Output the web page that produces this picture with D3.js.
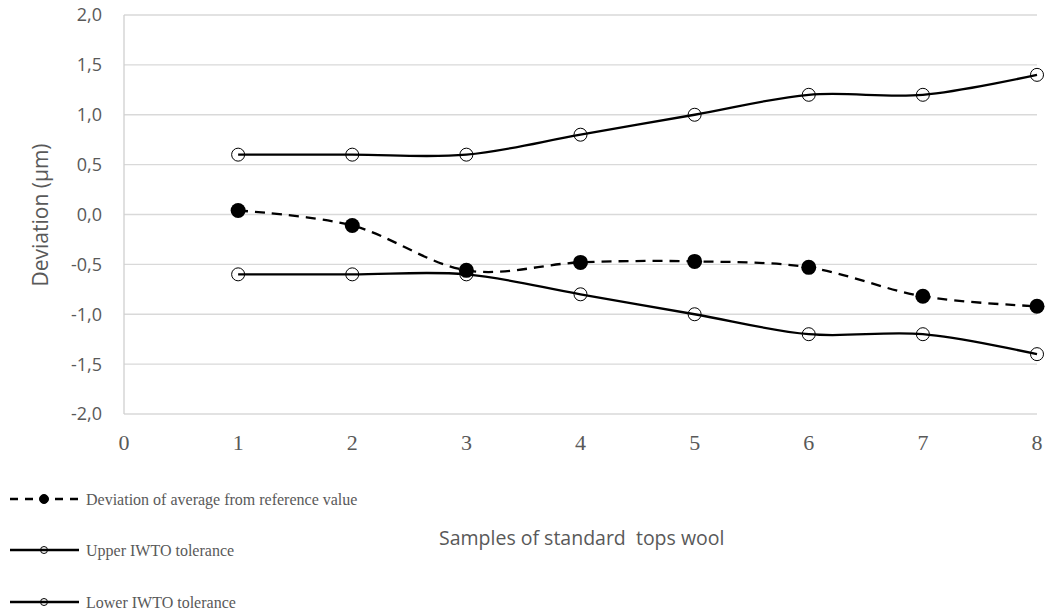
<!DOCTYPE html>
<html>
<head>
<meta charset="utf-8">
<script src="https://cdn.jsdelivr.net/npm/d3@7"></script>
<style>
  body { margin: 0; background: #fff; }
  svg { display: block; }
  .serif { font-family: "Liberation Serif", "Times New Roman", serif; }
  .sans { font-family: "Open Sans", sans-serif; }
</style>
</head>
<body>
<div id="chart"></div>
<script>
var samples = [1, 2, 3, 4, 5, 6, 7, 8];
var deviation = [0.04, -0.11, -0.56, -0.48, -0.47, -0.53, -0.82, -0.92];
var upperTol = [0.6, 0.6, 0.6, 0.8, 1.0, 1.2, 1.2, 1.4];
var lowerTol = [-0.6, -0.6, -0.6, -0.8, -1.0, -1.2, -1.2, -1.4];
var xTicks = [0, 1, 2, 3, 4, 5, 6, 7, 8];
var yTicks = [2.0, 1.5, 1.0, 0.5, 0.0, -0.5, -1.0, -1.5, -2.0];
var legendNames = ["Deviation of average from reference value", "Upper IWTO tolerance", "Lower IWTO tolerance"];

var width = 1049, height = 614;
var svg = d3.select("#chart").append("svg")
    .attr("width", width)
    .attr("height", height);

var x = d3.scaleLinear().domain([0, 8]).range([124, 1037]);
var y = d3.scaleLinear().domain([-2, 2]).range([414, 15]);

var locale = d3.formatLocale({decimal: ",", thousands: ".", grouping: [3], currency: ["", ""], minus: "-"});
var fmt = locale.format(".1f");

var grey = "#595959";

// gridlines
svg.append("g").selectAll("line")
    .data(yTicks)
    .join("line")
    .attr("x1", x(0)).attr("x2", x(8))
    .attr("y1", d => y(d)).attr("y2", d => y(d))
    .attr("stroke", "#d9d9d9")
    .attr("stroke-width", 1.3);

// left axis line
svg.append("line")
    .attr("x1", x(0)).attr("x2", x(0))
    .attr("y1", y(2)).attr("y2", y(-2))
    .attr("stroke", "#d0d0d0")
    .attr("stroke-width", 1.3);

// y tick labels
svg.append("g").selectAll("text")
    .data(yTicks)
    .join("text")
    .attr("class", "sans")
    .attr("x", 102)
    .attr("y", d => y(d))
    .attr("dy", "0.36em")
    .attr("text-anchor", "end")
    .attr("font-size", 18)
    .attr("fill", grey)
    .text(d => fmt(d));

// x tick labels
svg.append("g").selectAll("text")
    .data(xTicks)
    .join("text")
    .attr("class", "serif")
    .attr("x", d => x(d))
    .attr("y", 450)
    .attr("text-anchor", "middle")
    .attr("font-size", 22)
    .attr("fill", grey)
    .text(d => d);

// axis titles
svg.append("text")
    .attr("class", "sans")
    .attr("transform", "translate(48,215) rotate(-90)")
    .attr("text-anchor", "middle")
    .attr("font-size", 21)
    .attr("fill", grey)
    .text("Deviation (\u00b5m)");

svg.append("text")
    .attr("class", "sans")
    .attr("x", 439)
    .attr("y", 545)
    .attr("font-size", 19.5)
    .attr("fill", grey)
    .style("white-space", "pre")
    .text("Samples of standard  tops wool");

var line = d3.line()
    .x((d, i) => x(samples[i]))
    .y(d => y(d))
    .curve(d3.curveCatmullRom.alpha(0));

function drawSeries(vals, dashed, filled) {
    svg.append("path")
        .datum(vals)
        .attr("d", line)
        .attr("fill", "none")
        .attr("stroke", "#000")
        .attr("stroke-width", 2.3)
        .attr("stroke-dasharray", dashed ? "10,7" : null);
    svg.append("g").selectAll("circle")
        .data(vals)
        .join("circle")
        .attr("cx", (d, i) => x(samples[i]))
        .attr("cy", d => y(d))
        .attr("r", filled ? 7.5 : 6.5)
        .attr("fill", filled ? "#000" : "none")
        .attr("stroke", "#000")
        .attr("stroke-width", filled ? 0 : 1);
}

drawSeries(upperTol, false, false);
drawSeries(lowerTol, false, false);
drawSeries(deviation, true, true);

// legend
var legend = svg.append("g").selectAll("g")
    .data(legendNames)
    .join("g")
    .attr("transform", (d, i) => "translate(0," + [499, 550, 602][i] + ")");

legend.append("line")
    .attr("x1", 10).attr("x2", 79)
    .attr("y1", 0).attr("y2", 0)
    .attr("stroke", "#000")
    .attr("stroke-width", 2.3)
    .attr("stroke-dasharray", (d, i) => i === 0 ? "8,7" : null);

legend.append("circle")
    .attr("cx", 44).attr("cy", 0)
    .attr("r", (d, i) => i === 0 ? 4.5 : 3.5)
    .attr("fill", (d, i) => i === 0 ? "#000" : "none")
    .attr("stroke", "#000")
    .attr("stroke-width", 1);

legend.append("text")
    .attr("class", "serif")
    .attr("x", 86)
    .attr("y", 0)
    .attr("dy", "0.35em")
    .attr("font-size", 16)
    .attr("fill", grey)
    .text(d => d);
</script>
</body>
</html>
